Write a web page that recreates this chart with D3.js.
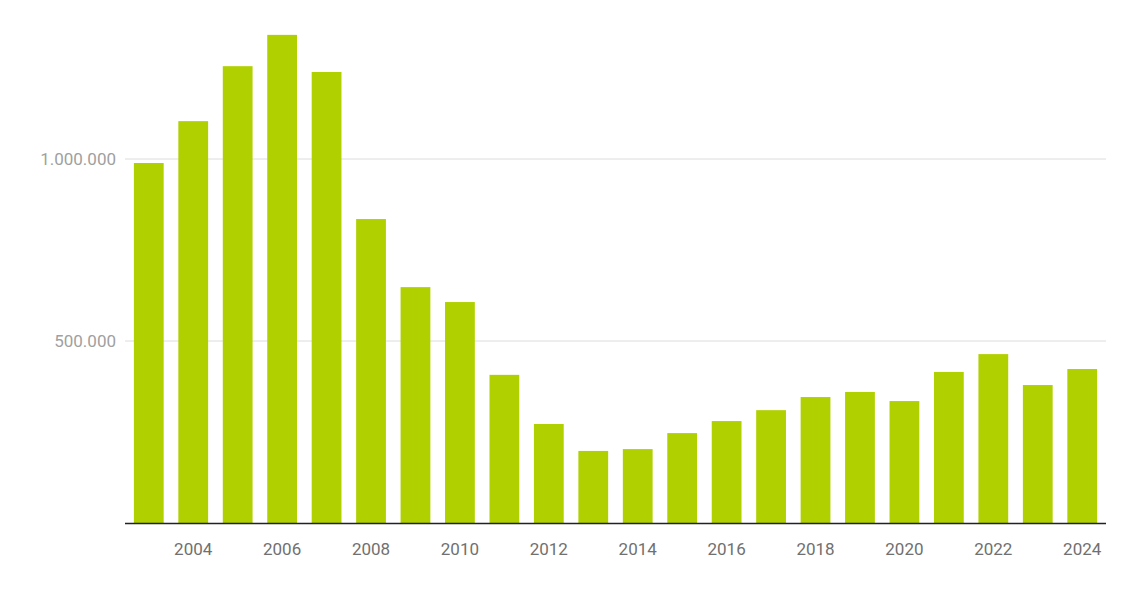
<!DOCTYPE html>
<head>
<meta charset="utf-8">
<title>Chart</title>
<script src="https://cdn.jsdelivr.net/npm/d3@7"></script>
<style>
  body { margin: 0; background: #fff; }
</style>
</head>
<body>
<div id="chart"></div>
<script>
const years = d3.range(2003, 2025);
const values = [989000, 1104000, 1255000, 1341000, 1239000, 835000, 648000, 607000,
  407000, 272000, 198000, 203000, 247000, 280000, 310000, 346000, 360000, 335000,
  415000, 464000, 379000, 423000];
const yTicks = [500000, 1000000];
const xTickYears = [2004, 2006, 2008, 2010, 2012, 2014, 2016, 2018, 2020, 2022, 2024];

const svg = d3.select("#chart").append("svg")
  .attr("width", 1128).attr("height", 591)
  .attr("font-family", "Roboto, sans-serif");

const x = d3.scaleBand().domain(years).range([125, 1106])
  .paddingInner(0.33).paddingOuter(0.2);
const y = d3.scaleLinear().domain([0, 1000000]).range([523, 159]);

const fmt = d => d3.format(",")(d).replace(/,/g, ".");

// gridlines
svg.selectAll("line.grid").data(yTicks).join("line")
  .attr("x1", 125).attr("x2", 1106)
  .attr("y1", d => y(d)).attr("y2", d => y(d))
  .attr("stroke", "#dcdcdc").attr("stroke-width", 1);

svg.selectAll("text.ylab").data(yTicks).join("text")
  .attr("x", 116).attr("y", d => y(d)).attr("dy", "0.35em")
  .attr("text-anchor", "end").attr("font-size", 17).attr("fill", "#a0a0a0")
  .text(fmt);

svg.selectAll("rect").data(values).join("rect")
  .attr("x", (d, i) => x(years[i])).attr("width", x.bandwidth())
  .attr("y", d => y(d)).attr("height", d => y(0) - y(d))
  .attr("fill", "#b1d000");

svg.append("line").attr("x1", 125).attr("x2", 1106)
  .attr("y1", y(0) + 0.5).attr("y2", y(0) + 0.5)
  .attr("stroke", "#222").attr("stroke-width", 1.5);

svg.selectAll("text.xlab").data(xTickYears).join("text")
  .attr("x", d => x(d) + x.bandwidth() / 2).attr("y", 555)
  .attr("text-anchor", "middle").attr("font-size", 17).attr("fill", "#707070")
  .text(d => d);
</script>
</body>
</html>
